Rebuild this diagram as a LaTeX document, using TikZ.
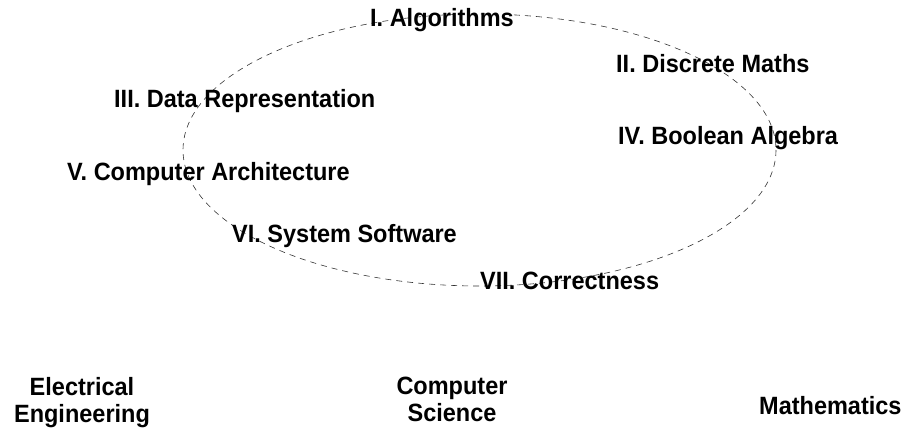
\documentclass[tikz,border=0pt]{standalone}
\usepackage{fontspec}
\setmainfont{Liberation Sans}
\newfontfamily\labelfont[FakeStretch=0.94]{Liberation Sans}
\usepackage{tikz}

\begin{document}
\begin{tikzpicture}[x=1pt,y=-1pt]
\tikzset{topic/.style={anchor=base west,inner sep=0pt,font=\labelfont\fontsize{25}{27}\selectfont\bfseries}}
\tikzset{field/.style={anchor=north,inner sep=0pt,align=center,font=\labelfont\fontsize{25}{27}\selectfont\bfseries}}
\useasboundingbox (0,0) rectangle (905,430);
\draw[dash pattern=on 6pt off 5pt,line width=0.6pt,black!80] (479.5,150) ellipse [x radius=296.5,y radius=136];
\node[topic] (algo) at (370,27) {I. Algorithms};
\node[topic] (discrete) at (616,73) {II. Discrete Maths};
\node[topic] (datarep) at (114,108) {III. Data Representation};
\node[topic] (boolean) at (618,145) {IV. Boolean Algebra};
\node[topic] (arch) at (67,181) {V. Computer Architecture};
\node[topic] (syssoft) at (232,243) {VI. System Software};
\node[topic] (correct) at (480,290) {VII. Correctness};
\node[field] (ee) at (82,377) {Electrical\\Engineering};
\node[field] (cs) at (452,377) {Computer\\Science};
\node[topic] (maths) at (759,414) {Mathematics};
\end{tikzpicture}
\end{document}
